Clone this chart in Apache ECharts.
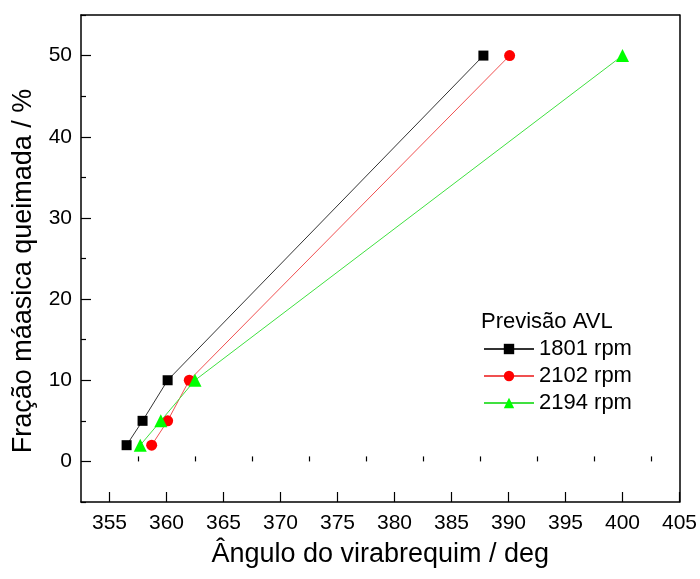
<!DOCTYPE html>
<html><head><meta charset="utf-8">
<script src="https://cdn.jsdelivr.net/npm/echarts@6/dist/echarts.min.js"></script>
<style>html,body{margin:0;padding:0;background:#fff}#c{width:700px;height:579px}</style>
</head><body><div id="c"></div>
<script>
const seriesNames = ['1801 rpm', '2102 rpm', '2194 rpm'];
const fraction = [2, 5, 10, 50];
const angle1801 = [356.5, 357.9, 360.1, 387.8];
const angle2102 = [358.7, 360.1, 362.0, 390.1];
const angle2194 = [357.7, 359.5, 362.5, 400.0];
const xMajorTicks = [355, 360, 365, 370, 375, 380, 385, 390, 395, 400, 405];
const xMinorTicks = [357.5, 362.5, 367.5, 372.5, 377.5, 382.5, 387.5, 392.5, 397.5, 402.5];
const yMajorTicks = [0, 10, 20, 30, 40, 50];
const yMinorTicks = [-5, 5, 15, 25, 35, 45, 55];

const font = 'Liberation Sans, Arial, sans-serif';
const chart = echarts.init(document.getElementById('c'));
const pair = (xs) => xs.map((x, i) => [x, fraction[i]]);
const colors = ['#000000', '#ff0000', '#00ff00'];
const lineColors = ['#333333', '#f05050', '#40e040'];
const symbols = ['rect', 'circle', 'triangle'];
const sizes = [10, 11, 13];
const data = [angle1801, angle2102, angle2194];

chart.setOption({
  animation: false,
  grid: {left: 81, top: 15, right: 20, bottom: 77},
  legend: {
    orient: 'vertical', left: 478, top: 333, itemGap: 5,
    itemWidth: 50, itemHeight: 13,
    textStyle: {fontFamily: font, fontSize: 22, color: '#000', lineHeight: 22},
    data: seriesNames
  },
  graphic: [
    {type: 'text', x: 481, y: 322, style: {text: 'Previsão AVL', font: '22px ' + font, fill: '#000', verticalAlign: 'middle'}},
    {type: 'text', x: 24, y: 271, rotation: Math.PI / 2, style: {text: 'Fração máasica queimada / %', font: '27px ' + font, fill: '#000', align: 'center', verticalAlign: 'middle'}}
  ],
  xAxis: [{
    type: 'value', min: 352.5, max: 405, interval: 2.5,
    name: 'Ângulo do virabrequim / deg', nameLocation: 'middle', nameGap: 39,
    nameTextStyle: {fontFamily: font, fontSize: 27, color: '#000'},
    axisLine: {show: true, onZero: false, lineStyle: {color: '#000', width: 1.5}},
    axisTick: {show: true, inside: true, length: 10, customValues: xMajorTicks, lineStyle: {color: '#000', width: 1.2}},
    axisLabel: {customValues: xMajorTicks, fontFamily: font, fontSize: 21, color: '#000', margin: 11},
    splitLine: {show: false}
  }, {
    type: 'value', min: 352.5, max: 405, interval: 2.5, position: 'bottom',
    axisLine: {show: false},
    axisTick: {show: true, inside: true, length: 5, customValues: xMinorTicks, lineStyle: {color: '#000', width: 1.2}},
    axisLabel: {show: false}, splitLine: {show: false}
  }, {
    type: 'value', min: 352.5, max: 405, position: 'top',
    axisLine: {show: true, onZero: false, lineStyle: {color: '#000', width: 1.5}},
    axisTick: {show: false}, axisLabel: {show: false}, splitLine: {show: false}
  }],
  yAxis: [{
    type: 'value', min: -5, max: 55, interval: 5,
    axisLine: {show: true, onZero: false, lineStyle: {color: '#000', width: 1.5}},
    axisTick: {show: true, inside: true, length: 10, customValues: yMajorTicks, lineStyle: {color: '#000', width: 1.2}},
    axisLabel: {customValues: yMajorTicks, fontFamily: font, fontSize: 21, color: '#000', margin: 9},
    splitLine: {show: false}
  }, {
    type: 'value', min: -5, max: 55, interval: 5, position: 'left',
    axisLine: {show: false},
    axisTick: {show: true, inside: true, length: 5, customValues: yMinorTicks, lineStyle: {color: '#000', width: 1.2}},
    axisLabel: {show: false}, splitLine: {show: false}
  }, {
    type: 'value', min: -5, max: 55, position: 'right',
    axisLine: {show: true, onZero: false, lineStyle: {color: '#000', width: 1.5}},
    axisTick: {show: false}, axisLabel: {show: false}, splitLine: {show: false}
  }],
  series: seriesNames.map((n, i) => ({
    name: n, type: 'line', data: pair(data[i]),
    symbol: symbols[i], symbolSize: sizes[i],
    itemStyle: {color: colors[i]},
    lineStyle: {color: lineColors[i], width: 1},
    z: 3 + i
  }))
});
</script></body></html>
